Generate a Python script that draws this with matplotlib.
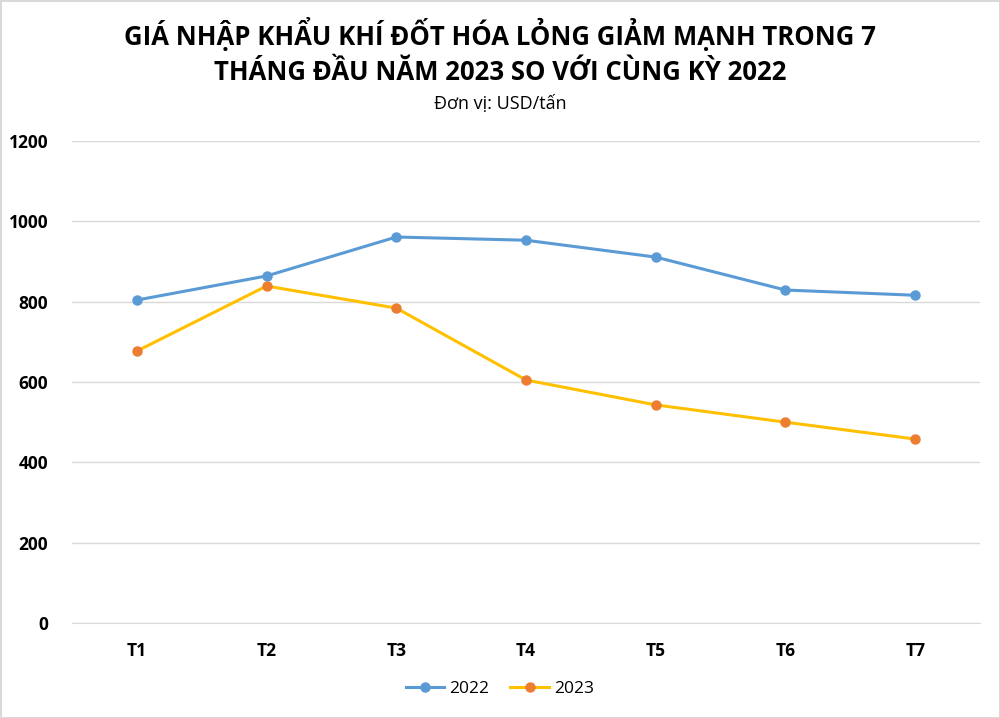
import matplotlib
matplotlib.use("Agg")
import matplotlib.pyplot as plt

plt.rcParams['font.family'] = ['Open Sans', 'DejaVu Sans']

# data (USD/tấn)
months = ["T1", "T2", "T3", "T4", "T5", "T6", "T7"]
price_2022 = [804, 864, 961, 953, 911, 829, 816]
price_2023 = [677, 839, 784, 605, 543, 500, 458]

fig = plt.figure(figsize=(10, 7.18), dpi=100)
fig.patch.set_edgecolor("#d9d9d9")
fig.patch.set_linewidth(2)
ax = fig.add_axes([0.072, 0.1323, 0.908, 0.6713])

x = range(len(months))
ax.plot(x, price_2022, color="#5b9bd5", lw=2.2, marker="o", ms=6.5,
        mfc="#5b9bd5", mec="#5b9bd5", label="2022", zorder=3)
ax.plot(x, price_2023, color="#ffc000", lw=2.2, marker="o", ms=6.5,
        mfc="#ed7d31", mec="#ed7d31", label="2023", zorder=3)

ax.set_xlim(-0.5, len(months) - 0.5)
ax.set_ylim(0, 1200)
ax.set_yticks(range(0, 1201, 200))
ax.set_xticks(list(x))
ax.set_xticklabels(months)
ax.grid(axis="y", color="#d9d9d9", lw=1)
ax.set_axisbelow(True)
for s in ["top", "right", "left"]:
    ax.spines[s].set_visible(False)
ax.spines["bottom"].set_color("#d9d9d9")
ax.tick_params(length=0, labelsize=12.5)
ax.tick_params(axis="x", pad=14)
ax.tick_params(axis="y", pad=17)
for lab in ax.get_xticklabels() + ax.get_yticklabels():
    lab.set_fontweight("bold")

fig.text(0.5, 0.953, "GIÁ NHẬP KHẨU KHÍ ĐỐT HÓA LỎNG GIẢM MẠNH TRONG 7",
         ha="center", va="center", fontsize=18.5, fontweight="bold")
fig.text(0.5, 0.899, "THÁNG ĐẦU NĂM 2023 SO VỚI CÙNG KỲ 2022",
         ha="center", va="center", fontsize=18.5, fontweight="bold")
fig.text(0.5, 0.855, "Đơn vị: USD/tấn", ha="center", va="center", fontsize=13)

fig.legend(loc="center", bbox_to_anchor=(0.5, 0.04), ncol=2, frameon=False,
           fontsize=12.5, handlelength=2.2, columnspacing=1.2, handletextpad=0.3)

fig.savefig("out.png", dpi=100, edgecolor=fig.get_edgecolor())
